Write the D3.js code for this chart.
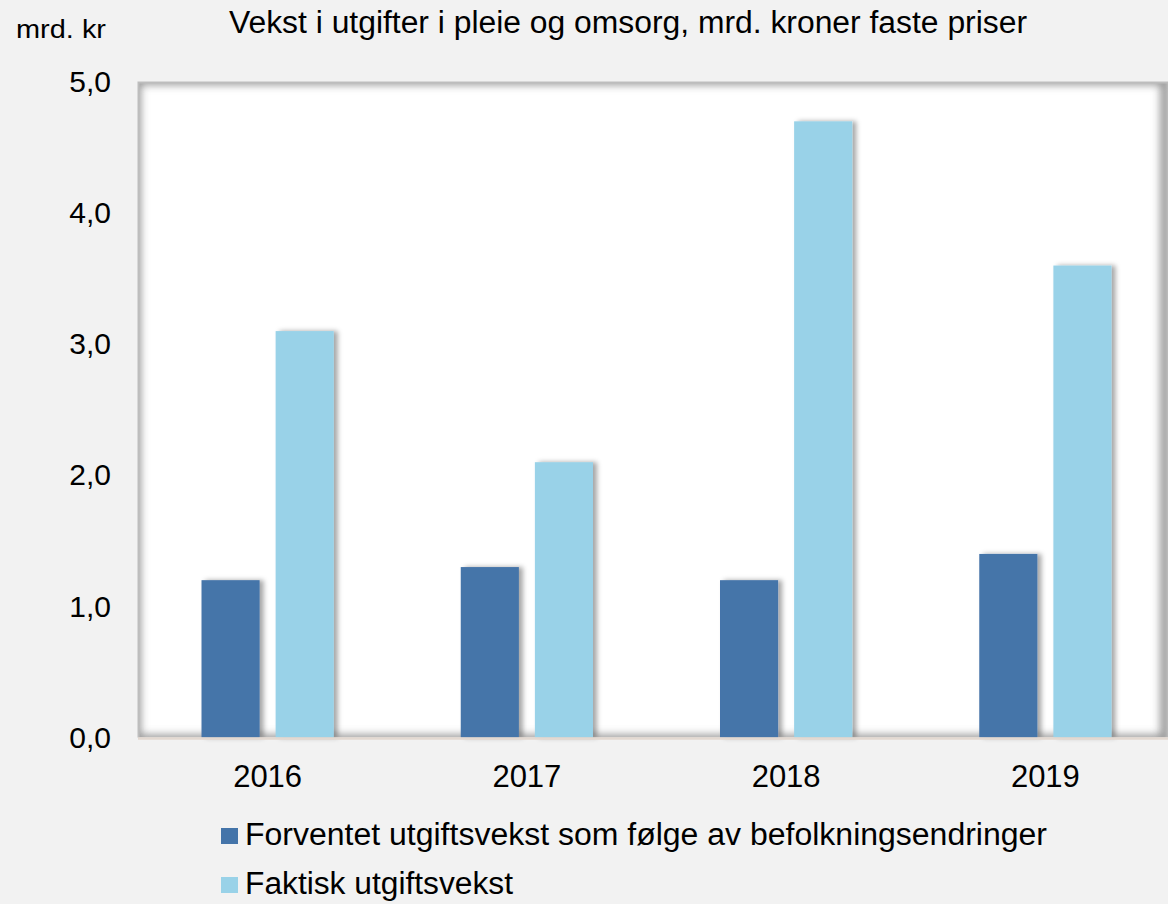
<!DOCTYPE html>
<html>
<head>
<meta charset="utf-8">
<script src="https://cdn.jsdelivr.net/npm/d3@7"></script>
<style>
    html, body { margin: 0; padding: 0; background: #f2f2f2; }
    svg { display: block; font-family: "Liberation Sans", Arial, sans-serif; }
</style>
</head>
<body>
<div id="chart"></div>
<script>
// Chart data
const years = ['2016', '2017', '2018', '2019'];
const forventet = [1.2, 1.3, 1.2, 1.4];
const faktisk = [3.1, 2.1, 4.7, 3.6];
const yTicks = [0, 1, 2, 3, 4, 5];
const seriesNames = [
    'Forventet utgiftsvekst som følge av befolkningsendringer',
    'Faktisk utgiftsvekst'
];
const seriesColors = ['#4474a9', '#99d2e8'];
const title = 'Vekst i utgifter i pleie og omsorg, mrd. kroner faste priser';
const unitLabel = 'mrd. kr';

const width = 1168;
const height = 904;
const plot = {left: 138, top: 82, right: 1175, bottom: 737.5};

const svg = d3.select('#chart')
    .append('svg')
    .attr('width', width)
    .attr('height', height);

const defs = svg.append('defs');

// Drop shadow for the bars
const barShadow = defs.append('filter')
    .attr('id', 'bar-shadow')
    .attr('x', '-20%').attr('y', '-5%')
    .attr('width', '150%').attr('height', '110%');
barShadow.append('feDropShadow')
    .attr('dx', 4).attr('dy', 0)
    .attr('stdDeviation', 2.5)
    .attr('flood-color', '#000')
    .attr('flood-opacity', 0.35);

// Inner shadow for the plot area
defs.append('filter')
    .attr('id', 'blur')
    .append('feGaussianBlur')
    .attr('stdDeviation', 4);

defs.append('clipPath')
    .attr('id', 'plot-clip')
    .append('rect')
    .attr('x', plot.left)
    .attr('y', plot.top)
    .attr('width', width - plot.left)
    .attr('height', plot.bottom - plot.top);

// Background
svg.append('rect')
    .attr('width', width)
    .attr('height', height)
    .attr('fill', '#f2f2f2');

// Plot area
svg.append('rect')
    .attr('x', plot.left)
    .attr('y', plot.top)
    .attr('width', width - plot.left)
    .attr('height', plot.bottom - plot.top)
    .attr('fill', '#fff');

svg.append('g')
    .attr('clip-path', 'url(#plot-clip)')
    .append('rect')
    .attr('x', plot.left - 2)
    .attr('y', plot.top - 2)
    .attr('width', width - plot.left - 1)
    .attr('height', plot.bottom - plot.top + 4)
    .attr('fill', 'none')
    .attr('stroke', '#909090')
    .attr('stroke-width', 9)
    .attr('filter', 'url(#blur)');

svg.append('path')
    .attr('d', `M${plot.left + 0.5},${plot.bottom}V${plot.top + 0.5}H${width}`)
    .attr('fill', 'none')
    .attr('stroke', '#bdbdbd')
    .attr('stroke-width', 2);

// Scales
const x = d3.scaleBand()
    .domain(years)
    .range([plot.left, plot.right])
    .paddingInner(0.49)
    .paddingOuter(0.245);

const xInner = d3.scaleBand()
    .domain(d3.range(seriesNames.length))
    .range([0, x.bandwidth()])
    .paddingInner(0.216);

const y = d3.scaleLinear()
    .domain([0, 5])
    .range([plot.bottom, plot.top]);

// Bars
const values = [forventet, faktisk];
const groups = svg.append('g')
    .selectAll('g')
    .data(years)
    .join('g')
    .attr('transform', d => `translate(${x(d)},0)`);

groups.selectAll('rect')
    .data((d, i) => values.map((v, s) => ({series: s, value: v[i]})))
    .join('rect')
    .attr('x', d => xInner(d.series))
    .attr('y', d => y(d.value))
    .attr('width', xInner.bandwidth())
    .attr('height', d => y(0) - y(d.value))
    .attr('fill', d => seriesColors[d.series])
    .attr('filter', 'url(#bar-shadow)');

// Baseline
svg.append('line')
    .attr('x1', plot.left)
    .attr('x2', width)
    .attr('y1', y(0) + 1)
    .attr('y2', y(0) + 1)
    .attr('stroke', '#e3d9d1')
    .attr('stroke-width', 2.5);

// Y axis
const yAxis = svg.append('g')
    .attr('transform', `translate(${plot.left},0)`)
    .call(d3.axisLeft(y)
        .tickValues(yTicks)
        .tickSize(0)
        .tickPadding(27)
        .tickFormat(d => d3.format('.1f')(d).replace('.', ',')));
yAxis.select('.domain').remove();
yAxis.selectAll('text')
    .attr('font-size', 30)
    .attr('font-family', '"Liberation Sans", Arial, sans-serif')
    .attr('fill', '#000');

// X axis
const xAxis = svg.append('g')
    .attr('transform', `translate(0,${plot.bottom})`)
    .call(d3.axisBottom(x).tickSize(0).tickPadding(27));
xAxis.select('.domain').remove();
xAxis.selectAll('text')
    .attr('font-size', 31)
    .attr('font-family', '"Liberation Sans", Arial, sans-serif')
    .attr('fill', '#000');

// Titles
svg.append('text')
    .attr('x', 229)
    .attr('y', 33)
    .attr('font-size', 31)
    .attr('textLength', 798)
    .attr('lengthAdjust', 'spacingAndGlyphs')
    .text(title);

svg.append('text')
    .attr('x', 16)
    .attr('y', 38)
    .attr('font-size', 26)
    .attr('textLength', 90)
    .attr('lengthAdjust', 'spacingAndGlyphs')
    .text(unitLabel);

// Legend
const legendWidths = [802, 268];
const legend = svg.append('g')
    .selectAll('g')
    .data(seriesNames)
    .join('g')
    .attr('transform', (d, i) => `translate(221,${845 + i * 49})`);

legend.append('rect')
    .attr('x', 0)
    .attr('y', -17)
    .attr('width', 17)
    .attr('height', 16)
    .attr('fill', (d, i) => seriesColors[i]);

legend.append('text')
    .attr('x', 24)
    .attr('y', 0)
    .attr('font-size', 31)
    .attr('textLength', (d, i) => legendWidths[i])
    .attr('lengthAdjust', 'spacingAndGlyphs')
    .text(d => d);
</script>
</body>
</html>
